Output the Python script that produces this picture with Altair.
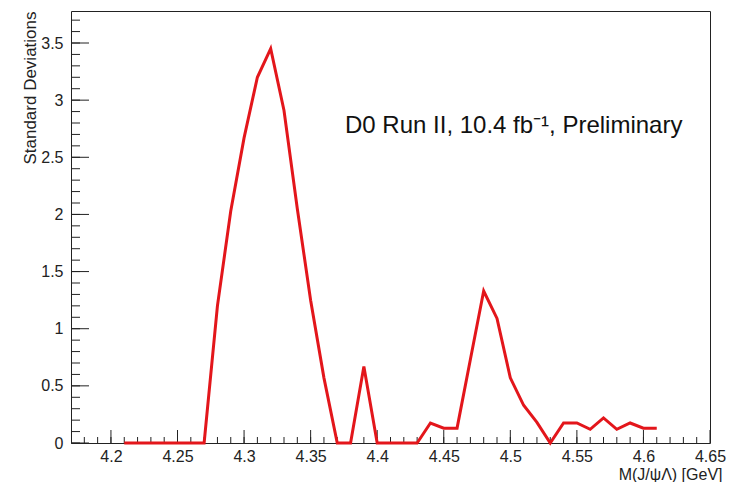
import altair as alt
import pandas as pd

# Local significance scan versus invariant mass
mass = [4.21, 4.22, 4.23, 4.24, 4.25, 4.26, 4.27, 4.28, 4.29, 4.30,
        4.31, 4.32, 4.33, 4.34, 4.35, 4.36, 4.37, 4.38, 4.39, 4.40,
        4.41, 4.42, 4.43, 4.44, 4.45, 4.46, 4.47, 4.48, 4.49, 4.50,
        4.51, 4.52, 4.53, 4.54, 4.55, 4.56, 4.57, 4.58, 4.59, 4.60, 4.61]
sigma = [0, 0, 0, 0, 0, 0, 0, 1.2, 2.03, 2.67,
         3.2, 3.45, 2.91, 2.05, 1.25, 0.57, 0, 0, 0.67, 0,
         0, 0, 0, 0.175, 0.13, 0.13, 0.73, 1.33, 1.09, 0.57,
         0.33, 0.18, 0, 0.175, 0.175, 0.12, 0.22, 0.12, 0.175, 0.13, 0.13]

x_labels = [4.2, 4.25, 4.3, 4.35, 4.4, 4.45, 4.5, 4.55, 4.6, 4.65]
y_labels = [0, 0.5, 1, 1.5, 2, 2.5, 3, 3.5]
x_minor = [round(4.18 + 0.01 * i, 2) for i in range(47)]
y_minor = [round(0.1 * i, 1) for i in range(38)]

X_DOMAIN = [4.17, 4.65]
Y_DOMAIN = [0, 3.78]
W, H = 639, 432
FONT = "Liberation Sans"
RED = "#e3161b"

curve = pd.DataFrame({"m": mass, "s": sigma})
xs = alt.Scale(domain=X_DOMAIN, nice=False, zero=False)
ys = alt.Scale(domain=Y_DOMAIN, nice=False, zero=False)

line = alt.Chart(curve).mark_line(color=RED, strokeWidth=3, strokeJoin="miter").encode(
    x=alt.X("m:Q", scale=xs,
            axis=alt.Axis(values=x_labels, format="~g", tickSize=0, domain=False, grid=False,
                          labelFontSize=16, labelFont=FONT, labelColor="#222", labelPadding=5,
                          labelFlush=False,
                          title="M(J/\u03c8\u039b) [GeV]", titleFont=FONT, titleFontSize=16,
                          titleFontWeight="normal", titleColor="#222", titleAlign="right",
                          titleX=W + 12, titleY=36, titleBaseline="alphabetic")),
    y=alt.Y("s:Q", scale=ys,
            axis=alt.Axis(values=y_labels, format="~g", tickSize=0, domain=False, grid=False,
                          labelFontSize=16, labelFont=FONT, labelColor="#222", labelPadding=8,
                          labelFlush=False,
                          title="Standard Deviations", titleFont=FONT, titleFontSize=17,
                          titleFontWeight="normal", titleColor="#222", titleAngle=-90,
                          titleAlign="right", titleX=-41, titleY=0, titleBaseline="middle")),
)

def xticks(vals, length):
    return alt.Chart(pd.DataFrame({"v": vals})).mark_rule(color="#222", strokeWidth=1).encode(
        x=alt.X("v:Q", scale=xs), y=alt.value(H), y2=alt.value(H - length))

def yticks(vals, length):
    return alt.Chart(pd.DataFrame({"v": vals})).mark_rule(color="#222", strokeWidth=1).encode(
        y=alt.Y("v:Q", scale=ys), x=alt.value(0), x2=alt.value(length))

label = alt.Chart(pd.DataFrame({"t": ["D0 Run II, 10.4 fb\u207b\u00b9, Preliminary"]})).mark_text(
    font=FONT, fontSize=24, color="#111", align="left", baseline="alphabetic"
).encode(text="t:N", x=alt.value(274), y=alt.value(122))

chart = alt.layer(
    xticks(x_minor, 6), xticks(x_labels, 13),
    yticks(y_minor, 9), yticks(y_labels, 18),
    line, label,
).properties(
    width=W, height=H,
    autosize=alt.AutoSizeParams(type="none"),
    padding={"left": 71, "top": 11, "right": 22, "bottom": 39},
    background="white",
).configure_view(stroke="#222", strokeWidth=1)

chart.save("out.html", embed_options={"renderer": "svg", "actions": False})
